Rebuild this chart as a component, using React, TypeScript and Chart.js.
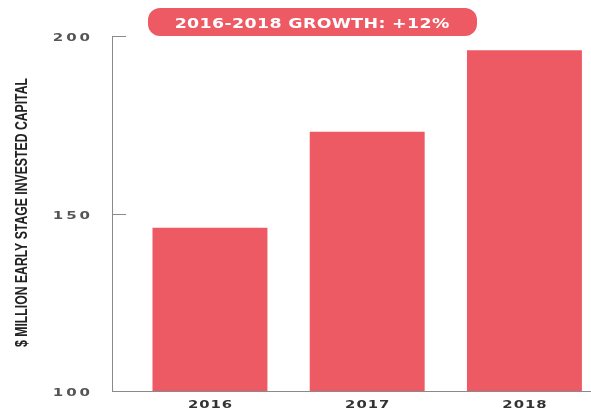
import React, { useEffect, useRef } from "react";
import { Chart, registerables } from "chart.js";

Chart.register(...registerables);

const categories = ["2016", "2017", "2018"];
const values = [146, 173, 196];
const yMin = 100;
const yMax = 200;
const yStep = 50;
const headline = "2016-2018 GROWTH: +12%";
const yAxisTitle = "$ MILLION EARLY STAGE INVESTED CAPITAL";

const RED = "#ED5A64";
const AXIS = "#8a8a8a";

// draws text horizontally stretched by sx, with letter spacing (in unscaled px)
function drawText(
  ctx: CanvasRenderingContext2D,
  text: string,
  x: number,
  baseline: number,
  align: "left" | "center" | "right",
  sx: number,
  spacing: number
) {
  ctx.save();
  (ctx as any).letterSpacing = `${spacing}px`;
  ctx.textAlign = "left";
  ctx.textBaseline = "alphabetic";
  const w = (ctx.measureText(text).width - spacing) * sx;
  let x0 = x;
  if (align === "center") x0 = x - w / 2;
  else if (align === "right") x0 = x - w;
  ctx.translate(x0, baseline);
  ctx.scale(sx, 1);
  ctx.fillText(text, 0, 0);
  ctx.restore();
}

const textPlugin = {
  id: "customText",
  afterDraw(chart: any) {
    const ctx: CanvasRenderingContext2D = chart.ctx;
    const { left, top, bottom } = chart.chartArea;
    const xs = chart.scales.x;
    const ys = chart.scales.y;
    ctx.save();
    // inward tick marks + y labels
    ys.ticks.forEach((t: any) => {
      const py = Math.round(ys.getPixelForValue(t.value)) + 0.5;
      if (t.value !== ys.min) {
        ctx.strokeStyle = AXIS;
        ctx.lineWidth = 1;
        ctx.beginPath();
        ctx.moveTo(left, py);
        ctx.lineTo(left + 14, py);
        ctx.stroke();
      }
      ctx.fillStyle = "#555";
      ctx.font = "600 10px 'DejaVu Sans', sans-serif";
      drawText(ctx, String(t.value), left - 22, py + 4.5, "right", 1.5, 2.0);
    });
    // x labels
    ctx.fillStyle = "#333";
    ctx.font = "bold 11px 'DejaVu Sans', sans-serif";
    categories.forEach((c, i) => {
      const px = xs.getPixelForValue(i);
      drawText(ctx, c, px, bottom + 17, "center", 1.35, 0.7);
    });
    // y axis title (condensed)
    ctx.save();
    ctx.fillStyle = "#222";
    ctx.font = "bold 17px 'Liberation Sans', Arial, sans-serif";
    const cy = (top + bottom) / 2 - 1;
    ctx.translate(27, cy);
    ctx.rotate(-Math.PI / 2);
    const tw = ctx.measureText(yAxisTitle).width;
    const k = 269 / tw;
    ctx.scale(k, 1);
    ctx.textAlign = "center";
    ctx.textBaseline = "alphabetic";
    ctx.fillText(yAxisTitle, 0, 0);
    ctx.restore();
    // headline pill
    ctx.fillStyle = RED;
    ctx.beginPath();
    (ctx as any).roundRect(148, 8, 329, 28, 12);
    ctx.fill();
    ctx.fillStyle = "#ffffff";
    ctx.font = "bold 14px 'DejaVu Sans', sans-serif";
    drawText(ctx, headline, 312, 28, "center", 1.24, 0.3);
    ctx.restore();
  },
};

export default function App() {
  const ref = useRef<HTMLCanvasElement | null>(null);

  useEffect(() => {
    if (!ref.current) return;
    const chart = new Chart(ref.current, {
      type: "bar",
      data: {
        datasets: [
          {
            data: categories.map((_, i) => ({ x: i, y: values[i] })),
            backgroundColor: RED,
            borderWidth: 0,
            categoryPercentage: 1,
            barPercentage: 0.731,
          },
        ],
      },
      options: {
        animation: false,
        responsive: false,
        maintainAspectRatio: false,
        layout: { padding: { top: 36, right: 1, bottom: 0, left: 0 } },
        plugins: {
          legend: { display: false },
          tooltip: { enabled: false },
          title: { display: false },
        },
        scales: {
          x: {
            type: "linear",
            min: -0.623,
            max: 2.417,
            offset: false,
            grid: { display: false, offset: false },
            border: { display: true, color: AXIS, width: 1 },
            ticks: { display: false, stepSize: 1, includeBounds: false },
            afterFit: (s: any) => {
              s.height = 19;
            },
          },
          y: {
            min: yMin,
            max: yMax,
            grid: { display: false },
            border: { display: true, color: AXIS, width: 1 },
            ticks: { display: false, stepSize: yStep },
            title: { display: false, text: yAxisTitle },
            afterFit: (s: any) => {
              s.width = 112;
            },
          },
        },
      },
      plugins: [textPlugin],
    } as any);
    return () => chart.destroy();
  }, []);

  return (
    <div style={{ position: "fixed", left: 0, top: 0, width: 591, height: 410, background: "#fff" }}>
      <canvas ref={ref} width={591} height={410} style={{ display: "block" }} />
    </div>
  );
}
